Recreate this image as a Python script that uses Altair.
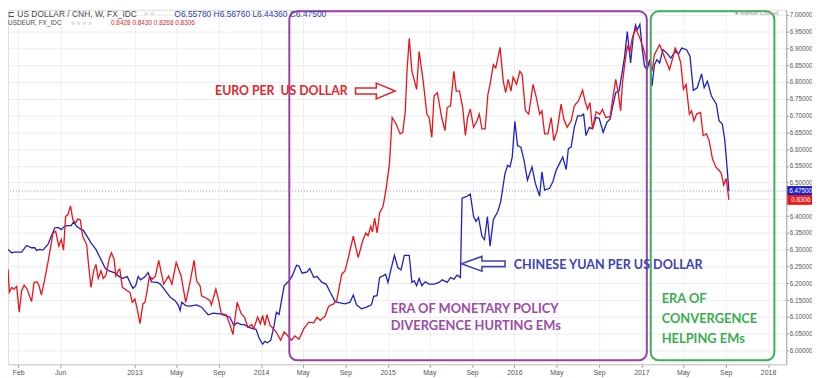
import altair as alt
import pandas as pd
from datetime import datetime

# ---------------- data ----------------
# USD/CNH weekly close (right axis), time as fractional year
cnh_t = [2012.005, 2012.034, 2012.059, 2012.112, 2012.151, 2012.190, 2012.216, 2012.229, 2012.255, 2012.280,
         2012.319, 2012.346, 2012.372, 2012.398, 2012.424, 2012.450, 2012.476, 2012.502, 2012.520, 2012.546,
         2012.573, 2012.598, 2012.624, 2012.658, 2012.697, 2012.723, 2012.749, 2012.770, 2012.801, 2012.840,
         2012.874, 2012.905, 2012.944, 2012.971, 2012.989, 2013.010, 2013.030, 2013.049, 2013.083, 2013.108,
         2013.135, 2013.179, 2013.205, 2013.244, 2013.283, 2013.322, 2013.348, 2013.361, 2013.374, 2013.405,
         2013.439, 2013.491, 2013.530, 2013.582, 2013.622, 2013.674, 2013.713, 2013.752, 2013.786, 2013.811,
         2013.843, 2013.869, 2013.895, 2013.934, 2013.960, 2013.986, 2014.012, 2014.030, 2014.051, 2014.077,
         2014.103, 2014.121, 2014.142, 2014.182, 2014.221, 2014.246, 2014.280, 2014.299, 2014.324, 2014.364,
         2014.385, 2014.416, 2014.442, 2014.481, 2014.514, 2014.546, 2014.585, 2014.624, 2014.663, 2014.702,
         2014.728, 2014.754, 2014.793, 2014.832, 2014.871, 2014.889, 2014.916, 2014.936, 2014.963, 2014.983,
         2015.002, 2015.027, 2015.053, 2015.080, 2015.105, 2015.131, 2015.170, 2015.191, 2015.209, 2015.228,
         2015.248, 2015.269, 2015.295, 2015.327, 2015.366, 2015.405, 2015.431, 2015.470, 2015.496, 2015.522,
         2015.548, 2015.574, 2015.587, 2015.619, 2015.652, 2015.678, 2015.697, 2015.717, 2015.744, 2015.764,
         2015.787, 2015.808, 2015.834, 2015.869, 2015.892, 2015.926, 2015.947, 2015.965, 2015.983, 2016.004,
         2016.025, 2016.051, 2016.076, 2016.103, 2016.139, 2016.165, 2016.199, 2016.217, 2016.238, 2016.277,
         2016.303, 2016.329, 2016.355, 2016.381, 2016.408, 2016.425, 2016.447, 2016.472, 2016.498, 2016.525,
         2016.545, 2016.564, 2016.590, 2016.615, 2016.642, 2016.668, 2016.699, 2016.728, 2016.754, 2016.772,
         2016.798, 2016.824, 2016.850, 2016.868, 2016.889, 2016.915, 2016.936, 2016.954, 2016.967, 2016.988,
         2017.006, 2017.025, 2017.045, 2017.066, 2017.084, 2017.103, 2017.123, 2017.144, 2017.170, 2017.201,
         2017.232, 2017.267, 2017.293, 2017.318, 2017.357, 2017.384, 2017.410, 2017.441, 2017.475, 2017.496,
         2017.521, 2017.553, 2017.592, 2017.613, 2017.639, 2017.657, 2017.670, 2017.691]
cnh_v = [6.3009, 6.2911, 6.2929, 6.2929, 6.3127, 6.3059, 6.3059, 6.2979, 6.3009, 6.2988,
         6.3156, 6.3401, 6.3649, 6.3666, 6.3599, 6.3696, 6.3717, 6.3717, 6.3826, 6.3696,
         6.3619, 6.3578, 6.3422, 6.3206, 6.3009, 6.2811, 6.2616, 6.2448, 6.2368, 6.2321,
         6.2221, 6.2144, 6.2203, 6.1976, 6.1849, 6.1926, 6.2203, 6.2103, 6.2192, 6.2321,
         6.2044, 6.2026, 6.1976, 6.1779, 6.1584, 6.1484, 6.1336, 6.1189, 6.1436, 6.1336,
         6.1318, 6.1357, 6.1289, 6.1062, 6.1112, 6.1091, 6.1041, 6.0994, 6.0746, 6.0826,
         6.0767, 6.0767, 6.0699, 6.0649, 6.0628, 6.0354, 6.0186, 6.0274, 6.0227, 6.0304,
         6.0746, 6.1141, 6.1071, 6.1926, 6.2074, 6.2221, 6.2537, 6.2516, 6.2301, 6.2339,
         6.2439, 6.2174, 6.2203, 6.2026, 6.1976, 6.1731, 6.1454, 6.1416, 6.1386, 6.1436,
         6.1652, 6.1357, 6.1239, 6.1289, 6.1357, 6.1613, 6.1631, 6.2174, 6.2221, 6.2271,
         6.2026, 6.2439, 6.2832, 6.2469, 6.2398, 6.2832, 6.2832, 6.2026, 6.2074, 6.1926,
         6.2144, 6.1926, 6.2044, 6.1976, 6.1976, 6.2026, 6.2103, 6.2026, 6.2174, 6.2124,
         6.2242, 6.2174, 6.4534, 6.4581, 6.4661, 6.3991, 6.3844, 6.3962, 6.3401, 6.3304,
         6.3991, 6.3106, 6.3894, 6.4139, 6.4433, 6.5271, 6.5516, 6.5466, 6.5761, 6.6823,
         6.6106, 6.6056, 6.5664, 6.5074, 6.5466, 6.4976, 6.4602, 6.5319, 6.4779, 6.4829,
         6.5024, 6.5369, 6.5566, 6.5761, 6.5389, 6.6009, 6.6056, 6.6646, 6.6991, 6.6991,
         6.7041, 6.6401, 6.6646, 6.6599, 6.6941, 6.6917, 6.6498, 6.6793, 6.6894, 6.7236,
         6.7678, 6.7729, 6.8319, 6.8761, 6.9499, 6.8563, 6.9351, 6.9696, 6.9549, 6.9714,
         6.9006, 6.8466, 6.8369, 6.8664, 6.7876, 6.8516, 6.8664, 6.8563, 6.8959, 6.8858,
         6.8711, 6.8909, 6.8829, 6.9006, 6.8959, 6.8761, 6.7749, 6.7826, 6.8239, 6.7826,
         6.8024, 6.7581, 6.7336, 6.6844, 6.6746, 6.6304, 6.5761, 6.4750]

# USD/EUR weekly close (own hidden scale)
eur_t = [2012.005, 2012.015, 2012.034, 2012.052, 2012.073, 2012.093, 2012.112, 2012.132, 2012.155, 2012.190,
         2012.210, 2012.234, 2012.249, 2012.268, 2012.294, 2012.319, 2012.346, 2012.359, 2012.380, 2012.405,
         2012.424, 2012.442, 2012.458, 2012.476, 2012.497, 2012.515, 2012.536, 2012.554, 2012.573, 2012.593,
         2012.624, 2012.640, 2012.658, 2012.679, 2012.697, 2012.715, 2012.737, 2012.755, 2012.776, 2012.801,
         2012.819, 2012.840, 2012.854, 2012.874, 2012.885, 2012.905, 2012.944, 2012.965, 2012.983, 2013.004,
         2013.022, 2013.044, 2013.067, 2013.083, 2013.101, 2013.119, 2013.140, 2013.166, 2013.192, 2013.231,
         2013.270, 2013.296, 2013.330, 2013.369, 2013.405, 2013.439, 2013.471, 2013.491, 2013.518, 2013.530,
         2013.569, 2013.596, 2013.608, 2013.643, 2013.666, 2013.686, 2013.725, 2013.752, 2013.778, 2013.811,
         2013.843, 2013.869, 2013.895, 2013.926, 2013.942, 2013.973, 2013.994, 2014.012, 2014.030, 2014.046,
         2014.072, 2014.116, 2014.155, 2014.182, 2014.207, 2014.241, 2014.267, 2014.299, 2014.338, 2014.377,
         2014.416, 2014.442, 2014.467, 2014.506, 2014.533, 2014.572, 2014.598, 2014.637, 2014.663, 2014.689,
         2014.728, 2014.767, 2014.801, 2014.827, 2014.845, 2014.866, 2014.879, 2014.897, 2014.916, 2014.936,
         2014.963, 2014.988, 2015.014, 2015.035, 2015.066, 2015.098, 2015.119, 2015.139, 2015.152, 2015.170,
         2015.191, 2015.228, 2015.248, 2015.280, 2015.309, 2015.327, 2015.348, 2015.366, 2015.392, 2015.426,
         2015.452, 2015.470, 2015.496, 2015.522, 2015.541, 2015.567, 2015.592, 2015.613, 2015.631, 2015.652,
         2015.678, 2015.705, 2015.723, 2015.744, 2015.769, 2015.791, 2015.808, 2015.834, 2015.853, 2015.887,
         2015.912, 2015.931, 2015.951, 2015.973, 2015.990, 2016.017, 2016.043, 2016.061, 2016.087, 2016.113,
         2016.147, 2016.173, 2016.199, 2016.217, 2016.238, 2016.264, 2016.290, 2016.311, 2016.337, 2016.368,
         2016.389, 2016.415, 2016.447, 2016.472, 2016.504, 2016.537, 2016.556, 2016.576, 2016.595, 2016.615,
         2016.644, 2016.672, 2016.693, 2016.720, 2016.754, 2016.772, 2016.798, 2016.816, 2016.837, 2016.850,
         2016.868, 2016.889, 2016.910, 2016.928, 2016.954, 2016.972, 2016.993, 2017.019, 2017.040, 2017.066,
         2017.084, 2017.103, 2017.123, 2017.144, 2017.170, 2017.196, 2017.222, 2017.248, 2017.267, 2017.293,
         2017.311, 2017.332, 2017.353, 2017.379, 2017.396, 2017.415, 2017.436, 2017.467, 2017.488, 2017.514,
         2017.535, 2017.561, 2017.587, 2017.613, 2017.631, 2017.650, 2017.670, 2017.691]
eur_v = [0.7756, 0.7573, 0.7612, 0.7599, 0.7620, 0.7416, 0.7586, 0.7630, 0.7599, 0.7499,
         0.7652, 0.7656, 0.7625, 0.7552, 0.7677, 0.7809, 0.7966, 0.8044, 0.8057, 0.7939,
         0.7992, 0.7908, 0.8175, 0.8188, 0.8259, 0.8149, 0.8123, 0.8154, 0.8149, 0.8018,
         0.7952, 0.7782, 0.7612, 0.7743, 0.7795, 0.7683, 0.7743, 0.7683, 0.7709, 0.7835,
         0.7887, 0.7835, 0.7703, 0.7748, 0.7756, 0.7612, 0.7586, 0.7573, 0.7494, 0.7520,
         0.7442, 0.7324, 0.7481, 0.7494, 0.7586, 0.7703, 0.7677, 0.7701, 0.7827, 0.7638,
         0.7703, 0.7638, 0.7809, 0.7703, 0.7494, 0.7652, 0.7827, 0.7664, 0.7625, 0.7546,
         0.7526, 0.7507, 0.7473, 0.7599, 0.7507, 0.7403, 0.7395, 0.7324, 0.7238, 0.7494,
         0.7403, 0.7377, 0.7298, 0.7316, 0.7285, 0.7377, 0.7324, 0.7389, 0.7311, 0.7395,
         0.7311, 0.7264, 0.7193, 0.7259, 0.7232, 0.7193, 0.7227, 0.7201, 0.7285, 0.7337,
         0.7331, 0.7377, 0.7350, 0.7385, 0.7463, 0.7481, 0.7513, 0.7717, 0.7743, 0.7848,
         0.8018, 0.7848, 0.7978, 0.8044, 0.8023, 0.8096, 0.8052, 0.8162, 0.8044, 0.8202,
         0.8253, 0.8398, 0.8594, 0.8960, 0.8909, 0.8830, 0.8843, 0.9013, 0.9327, 0.9589,
         0.9327, 0.9183, 0.9484, 0.9249, 0.8987, 0.8960, 0.8803, 0.9131, 0.9157, 0.8960,
         0.8856, 0.9039, 0.9052, 0.9327, 0.9170, 0.9170, 0.9039, 0.8817, 0.8960, 0.9026,
         0.8882, 0.8934, 0.8987, 0.8869, 0.8869, 0.9144, 0.9223, 0.9380, 0.9353, 0.9516,
         0.9249, 0.9157, 0.9262, 0.9170, 0.9280, 0.9223, 0.9327, 0.9301, 0.9013, 0.8987,
         0.9223, 0.9117, 0.8987, 0.9013, 0.8830, 0.8830, 0.8960, 0.8777, 0.8856, 0.9066,
         0.8948, 0.8882, 0.8934, 0.9052, 0.9092, 0.9176, 0.9092, 0.9026, 0.9078, 0.8869,
         0.9005, 0.8985, 0.9023, 0.8960, 0.8966, 0.9092, 0.9262, 0.9170, 0.9013, 0.9223,
         0.9380, 0.9524, 0.9484, 0.9589, 0.9663, 0.9628, 0.9576, 0.9498, 0.9406, 0.9392,
         0.9327, 0.9458, 0.9498, 0.9537, 0.9471, 0.9406, 0.9341, 0.9432, 0.9510, 0.9458,
         0.9392, 0.9183, 0.9223, 0.8987, 0.9013, 0.8934, 0.8987, 0.9000, 0.8817, 0.8830,
         0.8777, 0.8634, 0.8568, 0.8542, 0.8516, 0.8424, 0.8476, 0.8306]

# axis ticks
y_ticks = [6.00, 6.05, 6.10, 6.15, 6.20, 6.25, 6.30, 6.35, 6.40, 6.45, 6.50,
           6.55, 6.60, 6.65, 6.70, 6.75, 6.80, 6.85, 6.90, 6.95, 7.00]
x_tick_dates = [(2012, 2), (2012, 6), (2013, 1), (2013, 5), (2013, 9), (2014, 1), (2014, 5), (2014, 9),
                (2015, 1), (2015, 5), (2015, 9), (2016, 1), (2016, 5), (2016, 9), (2017, 1), (2017, 5),
                (2017, 9), (2018, 1)]

# last values
cnh_last = 6.475
eur_last = 0.8306
cnh_last_label = "6.47500"
eur_last_label = "0.8306"

# era boxes (fractional years, CNH scale)
era_start = [2014.223, 2017.074]
era_end = [2017.043, 2018.050]
era_color = ["#9a3fa6", "#3cb15a"]
box_top = 7.0103
box_bottom = 5.9705

# annotation texts (fractional years, CNH scale)
ann_text = ["EURO PER\u00a0\u00a0US DOLLAR", "CHINESE YUAN PER US DOLLAR",
            "ERA OF MONETARY POLICY", "DIVERGENCE HURTING EMs",
            "ERA OF", "CONVERGENCE", "HELPING EMs"]
ann_t = [2013.637, 2015.995, 2015.024, 2015.024, 2017.160, 2017.160, 2017.160]
ann_v = [6.7729, 6.2552, 6.1239, 6.0737, 6.1534, 6.0944, 6.0354]
ann_size = [12.4, 12.7, 13, 13, 13, 13, 13]
ann_color = ["#e3262d", "#3d44b5", "#9c4ba7", "#9c4ba7", "#3aae4f", "#3aae4f", "#3aae4f"]

# arrows (fractional years, CNH scale)
red_arrow_t, red_arrow_v = 2014.902, 6.7729
blue_arrow_t, blue_arrow_v = 2015.754, 6.2581


def to_date(t):
    y = int(t)
    start, end = datetime(y, 1, 1), datetime(y + 1, 1, 1)
    return (start + (t - y) * (end - start)).strftime("%Y-%m-%dT%H:%M:%S")


CNH_DOM = [5.9587, 7.01475]
EUR_DOM = [0.70020, 0.98143]
X_DOM = [alt.DateTime(year=2012, month=1, date=2, hours=17),
         alt.DateTime(year=2018, month=2, date=22, hours=12)]
xscale = alt.Scale(domain=X_DOM)
cnh_scale = alt.Scale(domain=CNH_DOM, nice=False, zero=False)
eur_scale = alt.Scale(domain=EUR_DOM, nice=False, zero=False)

W, H = 786, 358
FONT = "Liberation Sans"

cnh_df = pd.DataFrame({"date": [to_date(t) for t in cnh_t], "v": cnh_v})
eur_df = pd.DataFrame({"date": [to_date(t) for t in eur_t], "v": eur_v})

x_axis = alt.Axis(values=[alt.DateTime(year=y, month=m, date=1) for y, m in x_tick_dates],
                  labelExpr="month(datum.value) == 0 ? timeFormat(datum.value, '%Y') : timeFormat(datum.value, '%b')",
                  title=None, grid=True, gridColor="#efefef", domainColor="#c9c9c9",
                  tickColor="#9a9a9a", tickSize=3, labelFontSize=7, labelColor="#555555",
                  labelFont=FONT, labelPadding=1, labelFlush=False, labelOverlap=False)
y_axis = alt.Axis(orient="right", values=y_ticks,
                  labelExpr="abs(datum.value - 6.45) < 0.001 ? '' : format(datum.value, '.5f')",
                  title=None, grid=True, gridColor="#ececec", domainColor="#a8a8a8",
                  tickColor="#888888", tickSize=2, labelFontSize=6.4, labelColor="#555555",
                  labelFont=FONT, labelPadding=1, labelOverlap=False)


def X(field):
    return alt.X(field, type="temporal", scale=xscale, axis=x_axis)


price_line = alt.Chart(pd.DataFrame({"v": [cnh_last]})).mark_rule(
    color="#8a8ee0", strokeDash=[1, 2], strokeWidth=1).encode(
    y=alt.Y("v:Q", scale=cnh_scale, axis=None))

blue = alt.Chart(cnh_df).mark_line(color="#1c20c8", strokeWidth=1.3).encode(
    x=X("date"),
    y=alt.Y("v:Q", scale=cnh_scale, axis=y_axis))

red = alt.Chart(eur_df).mark_line(color="#ec1218", strokeWidth=1.3).encode(
    x=X("date"),
    y=alt.Y("v:Q", scale=eur_scale, axis=None))

era_df = pd.DataFrame({"s": [to_date(t) for t in era_start], "e": [to_date(t) for t in era_end],
                       "top": [box_top] * 2, "bot": [box_bottom] * 2, "c": era_color})
eras = alt.Chart(era_df).mark_rect(fillOpacity=0, strokeWidth=2, cornerRadius=8).encode(
    x=X("s"), x2="e:T",
    y=alt.Y("top:Q", scale=cnh_scale, axis=None), y2="bot:Q",
    stroke=alt.Stroke("c:N", scale=None))

ann_df = pd.DataFrame({"txt": ann_text, "date": [to_date(t) for t in ann_t], "v": ann_v,
                       "c": ann_color, "s": ann_size})
texts = alt.Chart(ann_df).mark_text(align="left", baseline="middle", font="Lato",
                                     fontWeight="bold").encode(
    x=X("date"),
    y=alt.Y("v:Q", scale=cnh_scale, axis=None),
    text="txt:N", color=alt.Color("c:N", scale=None), size=alt.Size("s:Q", scale=None))

RIGHT_ARROW = "M-1,-0.15L0.05,-0.15L0.05,-0.4L1,0L0.05,0.4L0.05,0.15L-1,0.15Z"
LEFT_ARROW = "M1,-0.13L-0.06,-0.13L-0.06,-0.34L-1,0L-0.06,0.34L-0.06,0.13L1,0.13Z"

red_arrow = alt.Chart(pd.DataFrame({"date": [to_date(red_arrow_t)], "v": [red_arrow_v]})).mark_point(
    shape=RIGHT_ARROW, size=1600, filled=True, fill="white", stroke="#e3262d", strokeWidth=1.6,
    opacity=1).encode(x=X("date"), y=alt.Y("v:Q", scale=cnh_scale, axis=None))
blue_arrow = alt.Chart(pd.DataFrame({"date": [to_date(blue_arrow_t)], "v": [blue_arrow_v]})).mark_point(
    shape=LEFT_ARROW, size=1936, filled=True, fill="white", stroke="#3d44b5", strokeWidth=1.6,
    opacity=1).encode(x=X("date"), y=alt.Y("v:Q", scale=cnh_scale, axis=None))

# last-price tags on the right axis
blue_tag = alt.Chart(pd.DataFrame({"a": [cnh_last - 0.01475], "b": [cnh_last + 0.01475]})).mark_rect(
    color="#1c20c8").encode(x=alt.value(W + 1), x2=alt.value(W + 26),
                            y=alt.Y("a:Q", scale=cnh_scale, axis=None), y2="b:Q")
blue_tag_txt = alt.Chart(pd.DataFrame({"v": [cnh_last], "t": [cnh_last_label]})).mark_text(
    align="left", baseline="middle", color="white", fontSize=6.4, font=FONT).encode(
    x=alt.value(W + 3), y=alt.Y("v:Q", scale=cnh_scale, axis=None), text="t:N")
red_tag = alt.Chart(pd.DataFrame({"a": [eur_last - 0.0039], "b": [eur_last + 0.0039]})).mark_rect(
    color="#f01a1a").encode(x=alt.value(W + 1), x2=alt.value(W + 26),
                            y=alt.Y("a:Q", scale=eur_scale, axis=None), y2="b:Q")
red_tag_txt = alt.Chart(pd.DataFrame({"v": [eur_last], "t": [eur_last_label]})).mark_text(
    align="left", baseline="middle", color="white", fontSize=6.4, font=FONT).encode(
    x=alt.value(W + 5), y=alt.Y("v:Q", scale=eur_scale, axis=None), text="t:N")


# header legend texts
def htext(txt, x, y, size, color, font=FONT):
    return alt.Chart(pd.DataFrame({"t": [txt]})).mark_text(
        align="left", baseline="middle", fontSize=size, color=color, font=font).encode(
        x=alt.value(x), y=alt.value(y), text="t:N")


headers = [
    htext("⊏ US DOLLAR / CNH, W, FX_IDC", 0, 4, 8.5, "#4a4a4a"),
    htext("■ ■", 137, 4, 7, "#e2e2e2"),
    htext("O6.55780 H6.56760 L6.44360 C6.47500", 168, 4, 8.5, "#3040b0"),
    htext("USDEUR, FX_IDC", 0, 13, 6.5, "#4a4a4a"),
    htext("■ ■ ■ ■", 64, 13, 6.5, "#e2e2e2"),
    htext("0.8428  0.8430  0.8268  0.8306", 104, 13, 6.5, "#e0282e"),
    htext("● Market Closed", 734, 3, 6, "#9a9a9a"),
]

chart = alt.layer(
    price_line, blue, red, eras, red_arrow, blue_arrow, texts,
    blue_tag, blue_tag_txt, red_tag, red_tag_txt, *headers
).resolve_scale(y="independent").properties(
    width=W, height=H, autosize=alt.AutoSizeParams(type="none"),
    padding={"left": 0, "top": 0, "right": 26, "bottom": 12}
).configure_view(stroke=None).configure(background="white")

chart.save("out.html", embed_options={"renderer": "svg", "actions": False})
